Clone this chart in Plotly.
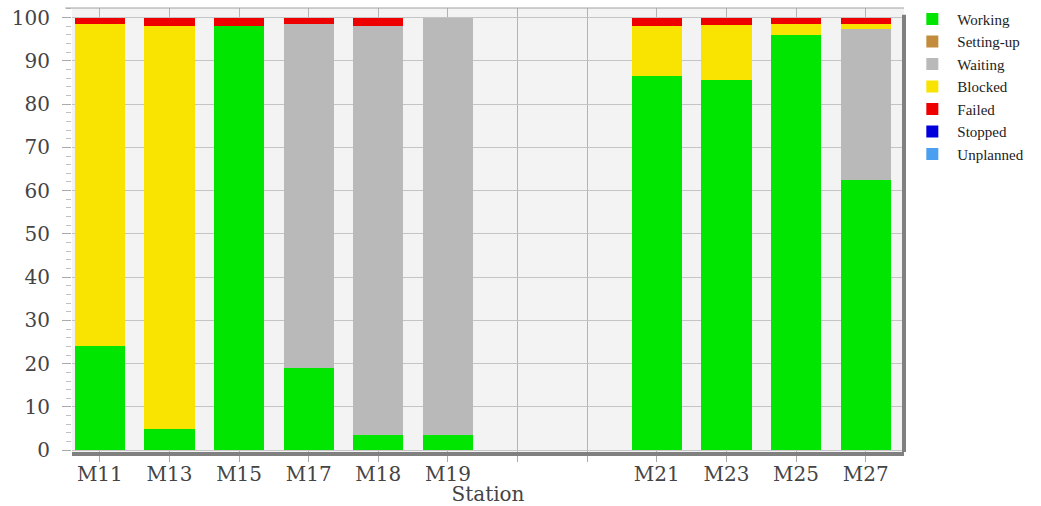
import plotly.graph_objects as go

# Station layout (two blank slots separate the two groups)
slots = ["M11", "M13", "M15", "M17", "M18", "M19", " ", "  ", "M21", "M23", "M25", "M27"]
stations = ["M11", "M13", "M15", "M17", "M18", "M19", "M21", "M23", "M25", "M27"]

working    = [24.0, 5.0, 98.0, 19.0, 3.5, 3.5, 86.4, 85.6, 96.0, 62.5]
setting_up = [0, 0, 0, 0, 0, 0, 0, 0, 0, 0]
waiting    = [0, 0, 0, 79.5, 94.5, 96.5, 0, 0, 0, 34.9]
blocked    = [74.5, 93.1, 0, 0, 0, 0, 11.6, 12.7, 2.6, 1.1]
failed     = [1.5, 1.9, 2.0, 1.5, 2.0, 0, 2.0, 1.7, 1.4, 1.5]
stopped    = [0, 0, 0, 0, 0, 0, 0, 0, 0, 0]
unplanned  = [0, 0, 0, 0, 0, 0, 0, 0, 0, 0]

series = [
    ("Working", working, "#00e600"),
    ("Setting-up", setting_up, "#c28c3c"),
    ("Waiting", waiting, "#b9b9b9"),
    ("Blocked", blocked, "#f8e400"),
    ("Failed", failed, "#ee0000"),
    ("Stopped", stopped, "#0000dd"),
    ("Unplanned", unplanned, "#4a9ff0"),
]

fig = go.Figure()
for name, vals, col in series:
    fig.add_trace(go.Bar(
        x=stations, y=vals, name=name, width=0.72,
        marker=dict(color=col, line=dict(width=0)),
    ))

fig.update_layout(
    barmode="stack",
    width=1041, height=506,
    margin=dict(l=72, r=137, t=8, b=54, autoexpand=False),
    paper_bgcolor="white",
    plot_bgcolor="#f3f3f3",
    font=dict(family="DejaVu Serif", color="#333333"),
    legend=dict(
        x=1.004, y=1.012, xanchor="left", yanchor="top",
        traceorder="normal",
        font=dict(family="Liberation Serif", size=15, color="#222222"),
        bgcolor="white", borderwidth=0, tracegroupgap=0,
        itemwidth=40,
    ),
    xaxis=dict(
        type="category", categoryorder="array", categoryarray=slots,
        tickmode="array", tickvals=slots, ticktext=slots,
        range=[-0.40, 11.55],
        automargin=False,
        showgrid=True, gridcolor="#b3b3b3", gridwidth=1,
        ticks="outside", ticklen=6, tickcolor="#aaaaaa",
        ticklabelstandoff=-5,
        tickfont=dict(family="DejaVu Serif", size=20, color="#444444"),
        title=dict(text="Station", font=dict(family="DejaVu Serif", size=20, color="#444444"), standoff=0),
        showline=True, linecolor="#808080", linewidth=4,
        zeroline=False,
    ),
    yaxis=dict(
        range=[-0.4, 102.2],
        automargin=False,
        tickvals=[0, 10, 20, 30, 40, 50, 60, 70, 80, 90, 100],
        showgrid=True, gridcolor="#c4c4c4", gridwidth=1,
        ticks="outside", ticklen=9, tickcolor="#aaaaaa",
        ticklabelstandoff=8,
        tickfont=dict(family="DejaVu Serif", size=20, color="#444444"),
        minor=dict(dtick=2, ticks="outside", ticklen=5, tickcolor="#c0c0c0", showgrid=False),
        showline=False, zeroline=False,
    ),
    shapes=[
        dict(type="line", xref="paper", yref="paper", x0=-0.008, x1=1.0, y0=1, y1=1,
             line=dict(color="#a0a0a0", width=1)),
        dict(type="line", xref="paper", yref="paper", x0=1.0, x1=1.0, y0=0, y1=0.985,
             line=dict(color="#808080", width=4)),
    ],
)

fig.write_html("out.html", config={"displayModeBar": False},
               post_script="document.body.style.margin='0px';")
